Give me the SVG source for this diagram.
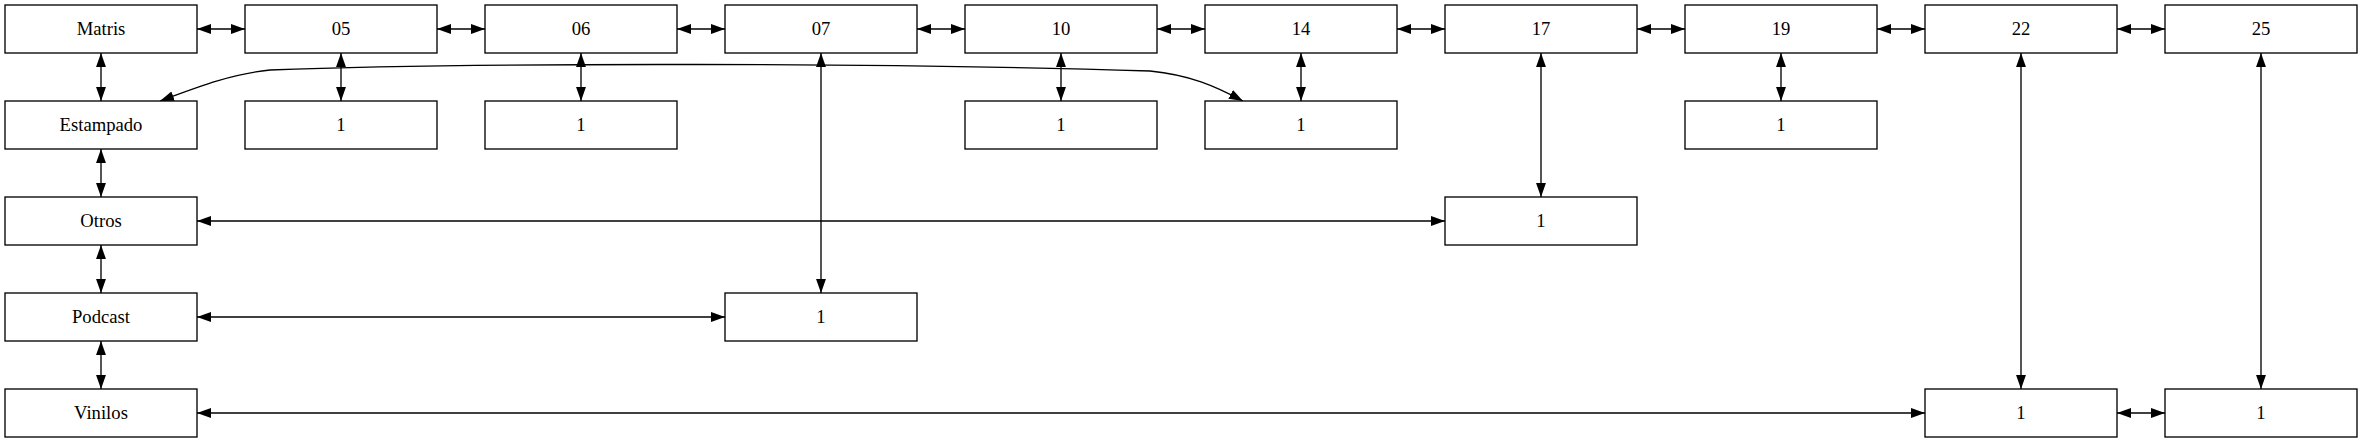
<svg xmlns="http://www.w3.org/2000/svg" width="2363" height="443" viewBox="0 0 2363 443">
<style>
.n rect{fill:#fff;stroke:#000;stroke-width:1.33}
.n text{font-family:"Liberation Serif","Times New Roman",serif;font-size:18.67px;text-anchor:middle;fill:#000}
#edges path{fill:none;stroke:#000;stroke-width:1.33;marker-start:url(#a);marker-end:url(#a)}
</style>
<defs>
<marker id="a" markerUnits="userSpaceOnUse" markerWidth="14" markerHeight="10" refX="13.3" refY="4.7" orient="auto-start-reverse" viewBox="0 0 13.3 9.4"><path d="M0,0 L13.3,4.7 L0,9.4 z" fill="#000"/></marker>
</defs>
<rect width="2363" height="443" fill="#fff"/>
<g id="edges">
<path d="M197,29 H245"/>
<path d="M437,29 H485"/>
<path d="M677,29 H725"/>
<path d="M917,29 H965"/>
<path d="M1157,29 H1205"/>
<path d="M1397,29 H1445"/>
<path d="M1637,29 H1685"/>
<path d="M1877,29 H1925"/>
<path d="M2117,29 H2165"/>
<path d="M101,53 V101"/>
<path d="M101,149 V197"/>
<path d="M101,245 V293"/>
<path d="M101,341 V389"/>
<path d="M341,53 V101"/>
<path d="M581,53 V101"/>
<path d="M821,53 V293"/>
<path d="M1061,53 V101"/>
<path d="M1301,53 V101"/>
<path d="M1541,53 V197"/>
<path d="M1781,53 V101"/>
<path d="M2021,53 V389"/>
<path d="M2261,53 V389"/>
<path d="M197,221 H1445"/>
<path d="M197,317 H725"/>
<path d="M197,413 H1925"/>
<path d="M2117,413 H2165"/>
<path d="M160,101 C195,88 230,74 270,70 C480,62 900,63 1150,71 C1190,75 1215,86 1243,101"/>
</g>
<g id="matris" class="n"><rect x="5" y="5" width="192" height="48"/><text x="101" y="35">Matris</text></g>
<g id="n05" class="n"><rect x="245" y="5" width="192" height="48"/><text x="341" y="35">05</text></g>
<g id="n06" class="n"><rect x="485" y="5" width="192" height="48"/><text x="581" y="35">06</text></g>
<g id="n07" class="n"><rect x="725" y="5" width="192" height="48"/><text x="821" y="35">07</text></g>
<g id="n10" class="n"><rect x="965" y="5" width="192" height="48"/><text x="1061" y="35">10</text></g>
<g id="n14" class="n"><rect x="1205" y="5" width="192" height="48"/><text x="1301" y="35">14</text></g>
<g id="n17" class="n"><rect x="1445" y="5" width="192" height="48"/><text x="1541" y="35">17</text></g>
<g id="n19" class="n"><rect x="1685" y="5" width="192" height="48"/><text x="1781" y="35">19</text></g>
<g id="n22" class="n"><rect x="1925" y="5" width="192" height="48"/><text x="2021" y="35">22</text></g>
<g id="n25" class="n"><rect x="2165" y="5" width="192" height="48"/><text x="2261" y="35">25</text></g>
<g id="estampado" class="n"><rect x="5" y="101" width="192" height="48"/><text x="101" y="131">Estampado</text></g>
<g id="otros" class="n"><rect x="5" y="197" width="192" height="48"/><text x="101" y="227">Otros</text></g>
<g id="podcast" class="n"><rect x="5" y="293" width="192" height="48"/><text x="101" y="323">Podcast</text></g>
<g id="vinilos" class="n"><rect x="5" y="389" width="192" height="48"/><text x="101" y="419">Vinilos</text></g>
<g id="n05_1" class="n"><rect x="245" y="101" width="192" height="48"/><text x="341" y="131">1</text></g>
<g id="n06_1" class="n"><rect x="485" y="101" width="192" height="48"/><text x="581" y="131">1</text></g>
<g id="n10_1" class="n"><rect x="965" y="101" width="192" height="48"/><text x="1061" y="131">1</text></g>
<g id="n14_1" class="n"><rect x="1205" y="101" width="192" height="48"/><text x="1301" y="131">1</text></g>
<g id="n19_1" class="n"><rect x="1685" y="101" width="192" height="48"/><text x="1781" y="131">1</text></g>
<g id="n17_1" class="n"><rect x="1445" y="197" width="192" height="48"/><text x="1541" y="227">1</text></g>
<g id="n07_1" class="n"><rect x="725" y="293" width="192" height="48"/><text x="821" y="323">1</text></g>
<g id="n22_1" class="n"><rect x="1925" y="389" width="192" height="48"/><text x="2021" y="419">1</text></g>
<g id="n25_1" class="n"><rect x="2165" y="389" width="192" height="48"/><text x="2261" y="419">1</text></g>
</svg>
